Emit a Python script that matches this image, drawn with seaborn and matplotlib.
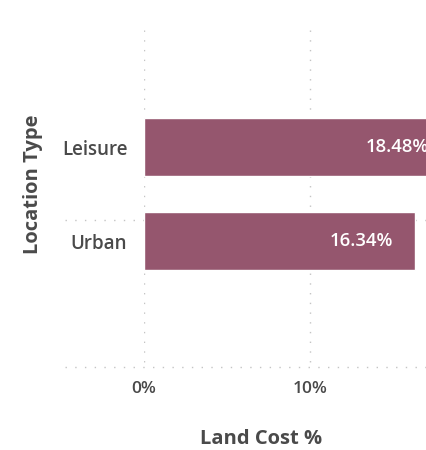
import matplotlib
matplotlib.use("Agg")
import matplotlib.pyplot as plt
import matplotlib.transforms as mtransforms
import seaborn as sns
import pandas as pd

# Land cost share by location type
location_types = ["Leisure", "Urban"]
land_cost_pct = [18.48, 16.34]
x_ticks = [0, 10]
x_tick_labels = ["0%", "10%"]

df = pd.DataFrame({"Location Type": location_types, "Land Cost %": land_cost_pct})

sns.set_theme(style="white")
plt.rcParams["font.family"] = ["Open Sans", "DejaVu Sans"]

BAR = "#95566e"
TXT = "#4a4a4a"
GRID = "#c4c4c4"

W, H = 427, 450
fig = plt.figure(figsize=(W / 100, H / 100), dpi=100)
# plot area runs past the right edge of the canvas
left_px, top_px, bottom_px, right_px = 144, 30, 367, 476
ax = fig.add_axes([left_px / W, 1 - bottom_px / H,
                   (right_px - left_px) / W, (bottom_px - top_px) / H])

sns.barplot(data=df, x="Land Cost %", y="Location Type", order=location_types,
            color=BAR, saturation=1, width=0.62, ax=ax, zorder=3)

ax.set_xlim(0, 20)
ax.set_ylim(2.34, -1.245)

for s in ax.spines.values():
    s.set_visible(False)

dots = dict(color=GRID, linewidth=1.0, linestyle=(0, (1, 6)), zorder=1)
# vertical grid
for xv in x_ticks + [20]:
    ax.plot([xv, xv], [-1.245, 2.34], **dots)
# horizontal grid, extending left under the category labels
blend = mtransforms.blended_transform_factory(ax.transAxes, ax.transData)
for yv in [0.776, 2.34]:
    ax.plot([-0.238, 1.0], [yv, yv], transform=blend, clip_on=False, **dots)

ax.set_xticks(x_ticks)
ax.set_xticklabels(x_tick_labels)
ax.tick_params(axis="x", length=0, pad=10, labelsize=12.5, labelcolor=TXT)
ax.tick_params(axis="y", length=0, pad=12, labelsize=13.5, labelcolor=TXT)
for lab in ax.get_xticklabels() + ax.get_yticklabels():
    lab.set_fontweight("semibold")

ax.set_xlabel("")
ax.set_ylabel("")
fig.text(261 / W, 1 - 439 / H, "Land Cost %", ha="center", va="center",
         fontsize=14.5, fontweight="bold", color=TXT)
fig.text(33 / W, 1 - 184 / H, "Location Type", ha="center", va="center",
         rotation=90, fontsize=14.5, fontweight="bold", color=TXT)

# value labels inside bar ends
offset = mtransforms.ScaledTranslation(-22 / 100, 0, fig.dpi_scale_trans)
for i, v in enumerate(land_cost_pct):
    ax.text(v, i, f"{v:.2f}%", ha="right", va="center", color="white",
            fontsize=13.3, fontweight="semibold", transform=ax.transData + offset,
            zorder=4)

fig.savefig("out.png", dpi=100)
